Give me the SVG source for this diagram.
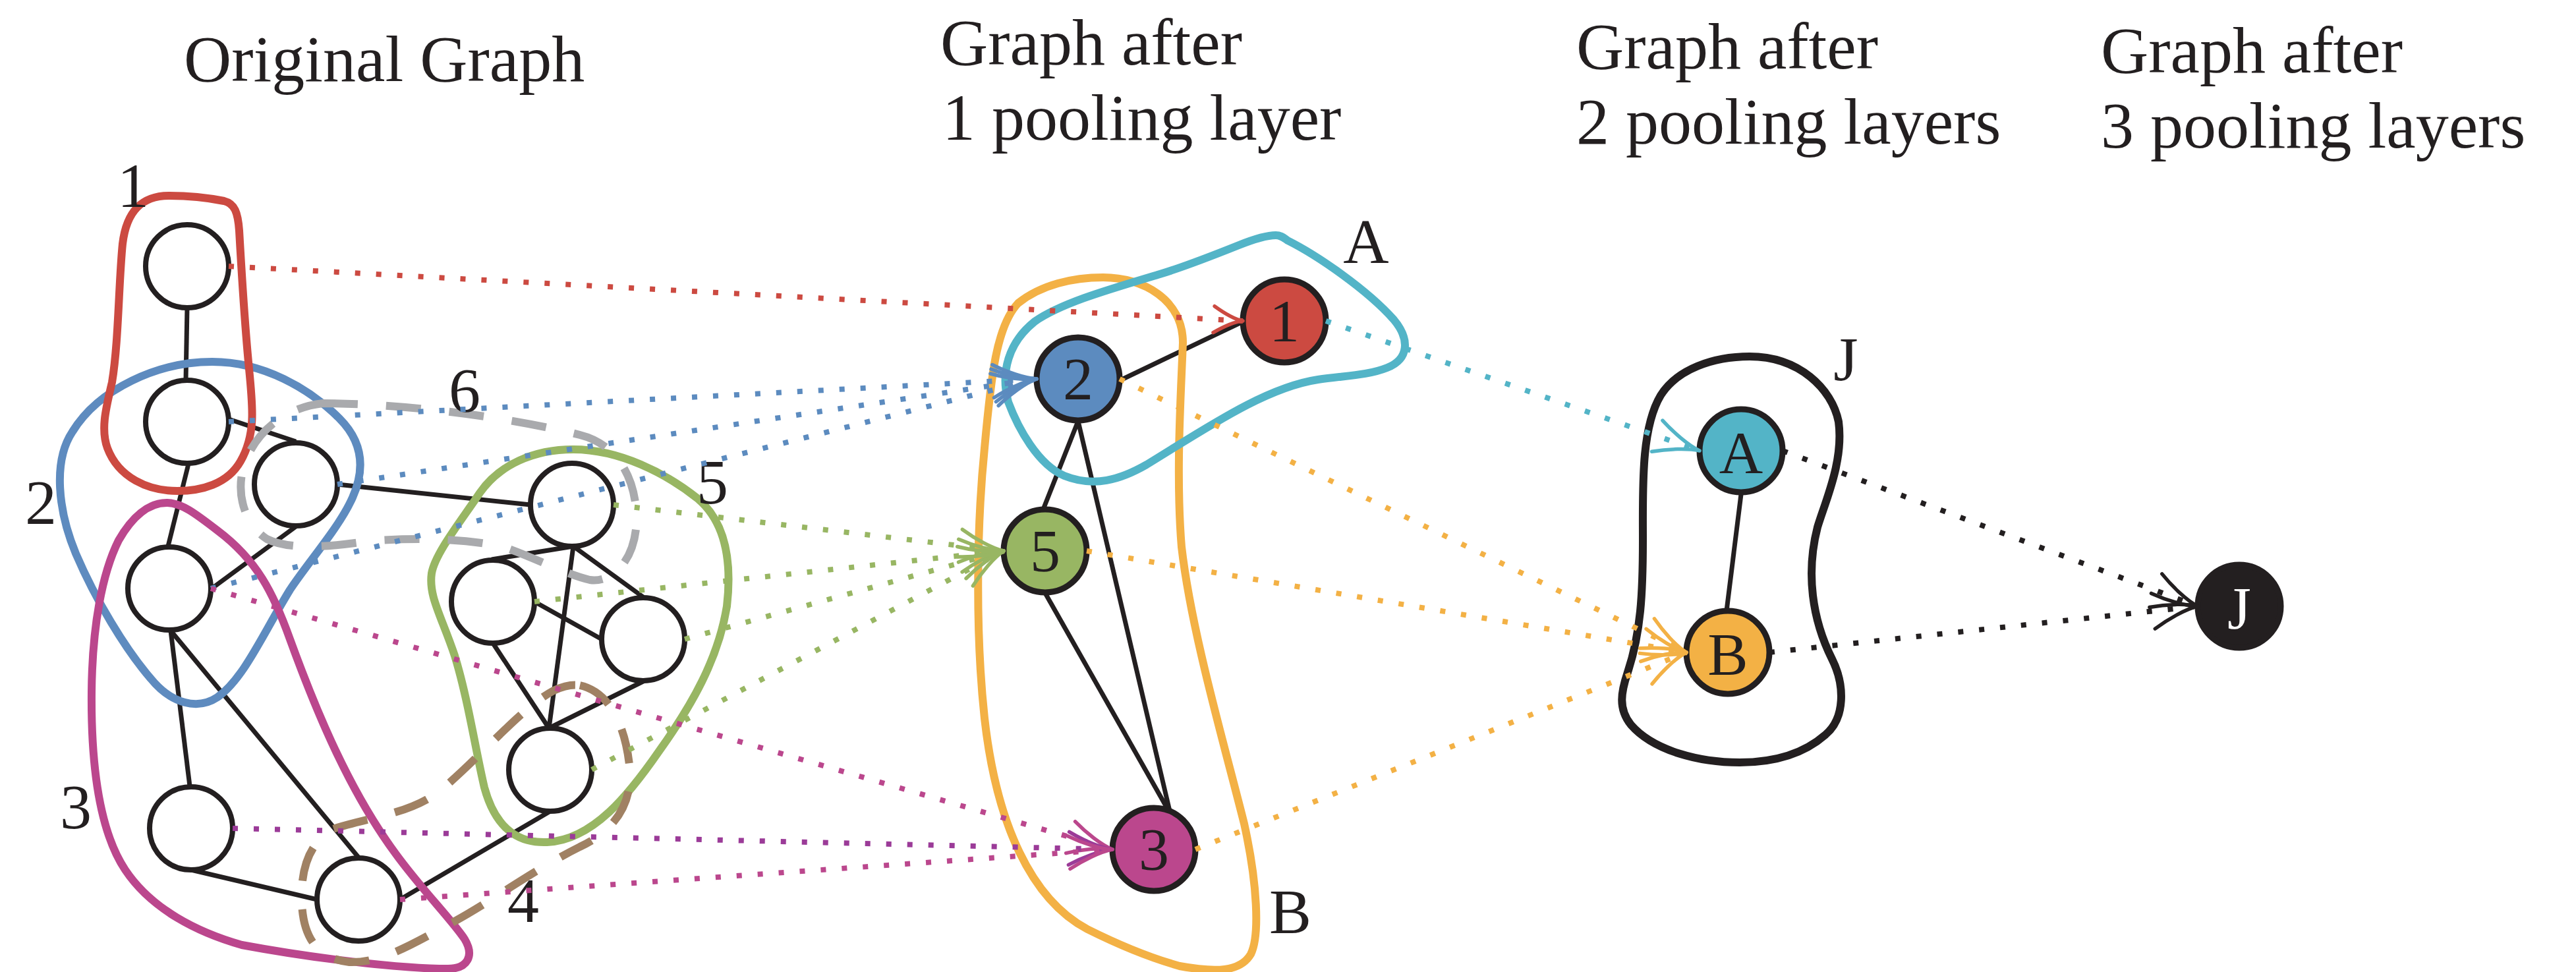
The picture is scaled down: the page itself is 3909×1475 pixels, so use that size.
<svg xmlns="http://www.w3.org/2000/svg" width="3909" height="1475" viewBox="0 0 3909 1475">
<style>
.title{font-size:100px}
.lbl{font-size:96px;text-anchor:middle}
.nl{font-size:92px;text-anchor:middle}
.hull{fill:none;stroke-width:12;stroke-linejoin:round}
.dash{fill:none;stroke-width:12;stroke-dasharray:53 43}
.edge{stroke:#231f20;stroke-width:7;fill:none}
.node{fill:#fff;stroke:#231f20;stroke-width:8}
.pnode{stroke:#231f20;stroke-width:9}
.dot{fill:none;stroke-width:8;stroke-dasharray:8 24}
.barb{fill:none;stroke-width:5.5;stroke-dasharray:none;stroke-linecap:round}
</style>
<defs>
<marker id="mRed" markerUnits="userSpaceOnUse" orient="auto" refX="0" refY="0" markerWidth="80" markerHeight="80" overflow="visible"><path class="barb" stroke="#cc4a41" d="M-44,-20 C-30,-11 -14,-2 0,0 M-44,20 C-30,11 -14,2 0,0"/></marker>
<marker id="mBlue" markerUnits="userSpaceOnUse" orient="auto" refX="0" refY="0" markerWidth="80" markerHeight="80" overflow="visible"><path class="barb" stroke="#5c8bbf" d="M-66,-25 C-45,-13 -18,-2 0,0 M-66,25 C-45,13 -18,2 0,0"/></marker>
<marker id="mGreen" markerUnits="userSpaceOnUse" orient="auto" refX="0" refY="0" markerWidth="80" markerHeight="80" overflow="visible"><path class="barb" stroke="#98b663" d="M-66,-25 C-45,-13 -18,-2 0,0 M-66,25 C-45,13 -18,2 0,0"/></marker>
<marker id="mMag" markerUnits="userSpaceOnUse" orient="auto" refX="0" refY="0" markerWidth="80" markerHeight="80" overflow="visible"><path class="barb" stroke="#bb478d" d="M-66,-25 C-45,-13 -18,-2 0,0 M-66,25 C-45,13 -18,2 0,0"/></marker>
<marker id="mPur" markerUnits="userSpaceOnUse" orient="auto" refX="0" refY="0" markerWidth="80" markerHeight="80" overflow="visible"><path class="barb" stroke="#9b3b98" d="M-66,-25 C-45,-13 -18,-2 0,0 M-66,25 C-45,13 -18,2 0,0"/></marker>
<marker id="mOr" markerUnits="userSpaceOnUse" orient="auto" refX="0" refY="0" markerWidth="80" markerHeight="80" overflow="visible"><path class="barb" stroke="#f3b145" d="M-66,-25 C-45,-13 -18,-2 0,0 M-66,25 C-45,13 -18,2 0,0"/></marker>
<marker id="mCy" markerUnits="userSpaceOnUse" orient="auto" refX="0" refY="0" markerWidth="80" markerHeight="80" overflow="visible"><path class="barb" stroke="#53b4c7" d="M-68,-25 C-46,-13 -18,-2 0,0 M-68,25 C-46,13 -18,2 0,0"/></marker>
<marker id="mBk" markerUnits="userSpaceOnUse" orient="auto" refX="0" refY="0" markerWidth="80" markerHeight="80" overflow="visible"><path class="barb" stroke="#231f20" d="M-68,-27 C-46,-14 -18,-2 0,0 M-68,27 C-46,14 -18,2 0,0"/></marker>
</defs>
<rect width="3909" height="1475" fill="#fff"/>

<g id="titles" font-family="'Liberation Serif', 'DejaVu Serif', serif" fill="#231f20">
<text class="title" x="279" y="123">Original Graph</text>
<text class="title" x="1427" y="98">Graph after</text>
<text class="title" x="1430" y="212">1 pooling layer</text>
<text class="title" x="2392" y="104">Graph after</text>
<text class="title" x="2392" y="218">2 pooling layers</text>
<text class="title" x="3188" y="110">Graph after</text>
<text class="title" x="3188" y="224">3 pooling layers</text>
</g>

<g id="edges">
<line class="edge" x1="284" y1="467" x2="282" y2="577"/>
<line class="edge" x1="347" y1="636" x2="449" y2="670"/>
<line class="edge" x1="286" y1="704" x2="255" y2="829"/>
<line class="edge" x1="449" y1="799" x2="320" y2="894"/>
<line class="edge" x1="512" y1="735" x2="805" y2="766"/>
<line class="edge" x1="259" y1="957" x2="288" y2="1193"/>
<line class="edge" x1="259" y1="957" x2="544" y2="1301"/>
<line class="edge" x1="290" y1="1320" x2="481" y2="1365"/>
<line class="edge" x1="607" y1="1365" x2="835" y2="1231"/>
<line class="edge" x1="870" y1="829" x2="746" y2="849"/>
<line class="edge" x1="870" y1="829" x2="976" y2="906"/>
<line class="edge" x1="870" y1="829" x2="833" y2="1105"/>
<line class="edge" x1="811" y1="913" x2="913" y2="970"/>
<line class="edge" x1="748" y1="976" x2="833" y2="1105"/>
<line class="edge" x1="978" y1="1033" x2="833" y2="1105"/>
<line class="edge" x1="1700" y1="577" x2="1886" y2="488"/>
<line class="edge" x1="1636" y1="639" x2="1583" y2="773"/>
<line class="edge" x1="1636" y1="639" x2="1776" y2="1235"/>
<line class="edge" x1="1586" y1="900" x2="1776" y2="1235"/>
<line class="edge" x1="2642" y1="750" x2="2620" y2="927"/>
</g>

<g id="hulls">
<path id="hull-2" class="hull" stroke="#5e8bbf" d="M 322,549 C 400,549 470,590 515,635 C 550,670 555,710 535,755 C 515,800 470,850 440,895 C 400,960 370,1030 330,1058 C 300,1078 260,1068 229,1030 C 190,985 145,910 115,840 C 88,775 80,700 110,655 C 150,590 240,549 322,549 Z"/>
<path id="hull-3" class="hull" stroke="#bb478d" d="M 253,763 C 275,763 295,778 330,805 C 390,850 415,900 440,970 C 480,1080 530,1200 600,1295 C 640,1350 685,1395 705,1425 C 720,1450 710,1470 680,1470 C 610,1470 480,1455 367,1434 C 300,1415 230,1380 190,1320 C 150,1260 138,1160 139,1050 C 140,950 155,870 180,820 C 200,785 225,763 253,763 Z"/>
<path id="hull-1" class="hull" stroke="#cc4a41" d="M 257,297 C 290,297 320,301 340,305 C 356,309 361,322 363,350 C 367,420 372,500 378,560 C 384,620 388,660 365,700 C 345,735 305,745 269,745 C 225,745 180,725 163,680 C 152,650 162,615 170,580 C 180,520 180,430 186,370 C 192,320 215,297 257,297 Z"/>
<path id="hull-5" class="hull" stroke="#98b663" d="M 870,682 C 940,682 1010,718 1058,756 C 1105,795 1110,860 1103,920 C 1090,1000 1050,1070 1000,1140 C 955,1205 900,1275 830,1278 C 780,1280 750,1250 735,1195 C 722,1140 710,1060 690,995 C 670,935 650,905 655,870 C 660,840 700,790 728,748 C 758,705 810,682 870,682 Z"/>
<path id="hull-6" class="dash" stroke="#a9aaad" d="M 490,612 C 600,612 760,630 880,660 C 940,675 966,730 966,790 C 964,850 930,885 895,880 C 860,872 820,850 770,832 C 720,818 640,815 560,821 C 500,830 440,835 405,818 C 370,795 360,750 368,715 C 378,670 420,620 490,612 Z"/>
<path id="hull-4" class="dash" stroke="#a08163" d="M 880,1040 C 925,1050 948,1100 955,1160 C 962,1215 935,1260 880,1285 C 810,1320 750,1365 690,1398 C 630,1430 580,1462 530,1460 C 480,1455 460,1420 458,1370 C 456,1320 468,1280 505,1258 C 560,1240 625,1235 670,1198 C 730,1148 790,1075 840,1048 C 853,1042 866,1038 880,1040 Z"/>
<path id="hull-B" class="hull" stroke="#f3b145" stroke-width="11" d="M 1674,421 C 1735,421 1795,455 1795,520 C 1792,600 1784,720 1793,830 C 1808,960 1858,1130 1888,1250 C 1908,1340 1912,1420 1898,1448 C 1882,1475 1845,1476 1790,1466 C 1740,1452 1690,1430 1650,1410 C 1565,1365 1512,1250 1494,1090 C 1480,960 1482,800 1494,680 C 1504,570 1512,495 1545,460 C 1580,432 1628,421 1674,421 Z"/>
<path id="hull-A" class="hull" stroke="#53b4c7" stroke-width="11" d="M 1936,357 C 1944,357 1948,361 1954,365 C 2000,388 2075,440 2115,485 C 2140,515 2138,545 2105,558 C 2075,570 2040,570 2000,576 C 1920,588 1830,650 1740,705 C 1700,728 1660,740 1615,722 C 1575,705 1545,650 1530,610 C 1518,565 1530,520 1570,488 C 1610,460 1680,440 1760,416 C 1800,404 1840,388 1880,372 C 1905,362 1922,357 1936,357 Z"/>
<path id="hull-J" class="hull" stroke="#231f20" stroke-width="13" d="M 2655,541 C 2730,541 2780,590 2790,640 C 2798,700 2770,760 2758,800 C 2740,870 2750,940 2780,1000 C 2800,1040 2800,1090 2770,1115 C 2730,1150 2680,1157 2640,1157 C 2580,1157 2510,1140 2475,1100 C 2455,1075 2460,1050 2470,1020 C 2490,960 2493,900 2493,820 C 2493,740 2490,650 2520,600 C 2545,560 2600,541 2655,541 Z"/>
</g>

<g id="labels" font-family="'Liberation Serif', 'DejaVu Serif', serif" fill="#231f20">
<text class="lbl" x="202" y="314">1</text>
<text class="lbl" x="62" y="795">2</text>
<text class="lbl" x="115" y="1257">3</text>
<text class="lbl" x="794" y="1399">4</text>
<text class="lbl" x="1081" y="764">5</text>
<text class="lbl" x="705" y="625">6</text>
<text class="lbl" x="2073" y="399" font-size="100">A</text>
<text class="lbl" x="1958" y="1416" font-size="100">B</text>
<text class="lbl" x="2801" y="578" font-size="100">J</text>
</g>

<g id="node-o1"><circle class="node" cx="284" cy="404" r="63"/></g>
<g id="node-o2"><circle class="node" cx="284" cy="640" r="63"/></g>
<g id="node-o3"><circle class="node" cx="449" cy="735" r="63"/></g>
<g id="node-o4"><circle class="node" cx="257" cy="893" r="63"/></g>
<g id="node-o5"><circle class="node" cx="290" cy="1257" r="63"/></g>
<g id="node-o6"><circle class="node" cx="544" cy="1365" r="63"/></g>
<g id="node-o7"><circle class="node" cx="868" cy="766" r="63"/></g>
<g id="node-o8"><circle class="node" cx="748" cy="913" r="63"/></g>
<g id="node-o9"><circle class="node" cx="976" cy="970" r="63"/></g>
<g id="node-o10"><circle class="node" cx="835" cy="1168" r="63"/></g>

<g font-family="'Liberation Serif', 'DejaVu Serif', serif" fill="#231f20">
<g id="node-p1"><circle class="pnode" cx="1949" cy="487" r="63" fill="#cc4a41"/><text class="nl" x="1949" y="518">1</text></g>
<g id="node-p2"><circle class="pnode" cx="1636" cy="575" r="63" fill="#5c8bbf"/><text class="nl" x="1636" y="606">2</text></g>
<g id="node-p5"><circle class="pnode" cx="1586" cy="836" r="63" fill="#98b663"/><text class="nl" x="1586" y="867">5</text></g>
<g id="node-p3"><circle class="pnode" cx="1751" cy="1289" r="63" fill="#bb478d"/><text class="nl" x="1751" y="1320">3</text></g>
<g id="node-A"><circle class="pnode" cx="2642" cy="684" r="63" fill="#53b4c7"/><text class="nl" x="2642" y="718" font-size="100">A</text></g>
<g id="node-B"><circle class="pnode" cx="2622" cy="990" r="63" fill="#f3b145"/><text class="nl" x="2622" y="1024" font-size="100">B</text></g>
<g id="node-J"><circle class="pnode" cx="3398" cy="920" r="63" fill="#231f20"/><text class="nl" x="3398" y="954" font-size="100" fill="#ffffff">J</text></g>
</g>

<g id="connectors">
<line class="dot" stroke="#cc4a41" x1="347" y1="404" x2="1886" y2="487" marker-end="url(#mRed)"/>
<line class="dot" stroke="#5c8bbf" x1="347" y1="640" x2="1573" y2="575" marker-end="url(#mBlue)"/>
<line class="dot" stroke="#5c8bbf" x1="512" y1="735" x2="1573" y2="575" marker-end="url(#mBlue)"/>
<line class="dot" stroke="#5c8bbf" x1="320" y1="893" x2="1573" y2="575" marker-end="url(#mBlue)"/>
<line class="dot" stroke="#98b663" x1="931" y1="766" x2="1523" y2="836" marker-end="url(#mGreen)"/>
<line class="dot" stroke="#98b663" x1="811" y1="913" x2="1523" y2="836" marker-end="url(#mGreen)"/>
<line class="dot" stroke="#98b663" x1="1039" y1="970" x2="1523" y2="836" marker-end="url(#mGreen)"/>
<line class="dot" stroke="#98b663" x1="898" y1="1168" x2="1523" y2="836" marker-end="url(#mGreen)"/>
<line class="dot" stroke="#bb478d" x1="320" y1="893" x2="1688" y2="1289" marker-end="url(#mMag)"/>
<line class="dot" stroke="#9b3b98" x1="353" y1="1257" x2="1688" y2="1289" marker-end="url(#mPur)"/>
<line class="dot" stroke="#bb478d" x1="607" y1="1365" x2="1688" y2="1289" marker-end="url(#mMag)"/>
<line class="dot" stroke="#53b4c7" x1="2012" y1="487" x2="2579" y2="684" marker-end="url(#mCy)"/>
<line class="dot" stroke="#f3b145" x1="1699" y1="575" x2="2559" y2="990" marker-end="url(#mOr)"/>
<line class="dot" stroke="#f3b145" x1="1649" y1="836" x2="2559" y2="990" marker-end="url(#mOr)"/>
<line class="dot" stroke="#f3b145" x1="1814" y1="1289" x2="2559" y2="990" marker-end="url(#mOr)"/>
<line class="dot" stroke="#231f20" x1="2705" y1="684" x2="3335" y2="920" marker-end="url(#mBk)"/>
<line class="dot" stroke="#231f20" x1="2685" y1="990" x2="3335" y2="920" marker-end="url(#mBk)"/>
</g>
</svg>
